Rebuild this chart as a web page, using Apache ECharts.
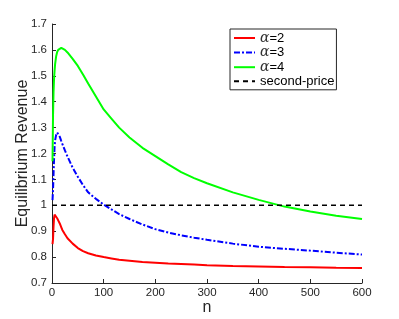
<!DOCTYPE html>
<html><head><meta charset="utf-8">
<script src="https://cdn.jsdelivr.net/npm/echarts@6/dist/echarts.min.js"></script>
<style>html,body{margin:0;padding:0;background:#fff}#c{width:399px;height:319px}</style>
</head><body><div id="c"></div>
<script>
const nValues = [1,2,3,4,5,6,8,10,12,15,18,20,25,30,40,50,60,70,85,100,115,130,150,175,200,225,250,275,300,350,400,450,500,550,600];
const alpha2 = [0.85,0.87,0.92,0.952,0.964,0.966,0.96,0.95,0.942,0.93,0.915,0.905,0.888,0.873,0.852,0.835,0.823,0.815,0.806,0.80,0.795,0.79,0.786,0.781,0.778,0.775,0.773,0.771,0.769,0.766,0.764,0.762,0.761,0.759,0.758];
const alpha3 = [1.02,1.06,1.12,1.18,1.225,1.25,1.272,1.281,1.279,1.265,1.248,1.237,1.212,1.188,1.145,1.11,1.078,1.05,1.025,1.003,0.984,0.966,0.947,0.926,0.908,0.895,0.884,0.875,0.867,0.852,0.84,0.832,0.825,0.817,0.81];
const alpha4 = [1.17,1.35,1.44,1.49,1.52,1.545,1.575,1.592,1.6,1.606,1.608,1.607,1.6,1.59,1.565,1.538,1.505,1.47,1.42,1.37,1.335,1.3,1.262,1.222,1.19,1.158,1.128,1.105,1.085,1.05,1.021,0.995,0.976,0.96,0.947];
const secondPriceN = [0,600];
const secondPrice = [1,1];
const seriesNames = ['α=2','α=3','α=4','second-price'];
const xTicks = {min:0,max:600,interval:100};
const yTicks = {min:0.7,max:1.7,interval:0.1};

const pair = (xs, ys) => xs.map((x,i)=>[x,ys[i]]);
const axisColor = '#262626';
const font = 'Liberation Sans, Arial, Helvetica, sans-serif';

const chart = echarts.init(document.getElementById('c'), null, {renderer:'canvas'});
chart.setOption({
  animation:false,
  backgroundColor:'#fff',
  grid:{left:52,right:37,top:24,bottom:36,containLabel:false,outerBoundsMode:'none'},
  xAxis:{type:'value',min:xTicks.min,max:xTicks.max,interval:xTicks.interval,
    name:'n',nameLocation:'middle',nameGap:17,nameMoveOverlap:false,
    nameTextStyle:{fontSize:16,color:axisColor,fontFamily:font},
    axisLine:{lineStyle:{color:axisColor,width:1}},
    axisTick:{inside:true,length:4,lineStyle:{color:axisColor}},
    axisLabel:{fontSize:11.5,color:axisColor,fontFamily:font,margin:4},
    splitLine:{show:false}},
  yAxis:{type:'value',min:yTicks.min,max:yTicks.max,interval:yTicks.interval,
    name:'Equilibrium Revenue',nameLocation:'middle',nameGap:21,nameMoveOverlap:false,
    nameTextStyle:{fontSize:16,color:axisColor,fontFamily:font},
    axisLine:{show:true,lineStyle:{color:axisColor,width:1}},
    axisTick:{show:true,inside:true,length:4,lineStyle:{color:axisColor}},
    axisLabel:{fontSize:11.5,color:axisColor,fontFamily:font,margin:5,
      formatter:v=>String(Math.round(v*10)/10)},
    splitLine:{show:false}},
  legend:{orient:'vertical',left:230,top:29,padding:[2,2,2,3],
    itemWidth:21,itemHeight:12,itemGap:0.6,
    itemStyle:{opacity:0},
    backgroundColor:'#fff',borderColor:'#262626',borderWidth:1,borderRadius:0,
    textStyle:{fontSize:13,color:'#000',fontFamily:font,lineHeight:12,
      rich:{a:{fontSize:14,lineHeight:12,fontStyle:'italic',fontFamily:'DejaVu Serif, serif',color:'#333'},
            b:{fontSize:13,lineHeight:12,fontFamily:font,color:'#000'}}},
    formatter:name=>name.startsWith('α')?'{a|α}{b|'+name.slice(1)+'}':'{b|'+name+'}',
    data:seriesNames},
  series:[
    {name:seriesNames[0],type:'line',data:pair(nValues,alpha2),showSymbol:false,symbol:'none',
     lineStyle:{color:'#ff0000',width:2},itemStyle:{color:'#ff0000'}},
    {name:seriesNames[1],type:'line',data:pair(nValues,alpha3),showSymbol:false,symbol:'none',
     lineStyle:{color:'#0000ff',width:2,type:[6,2,2,2]},itemStyle:{color:'#0000ff'}},
    {name:seriesNames[2],type:'line',data:pair(nValues,alpha4),showSymbol:false,symbol:'none',
     lineStyle:{color:'#00ff00',width:2},itemStyle:{color:'#00ff00'}},
    {name:seriesNames[3],type:'line',data:pair(secondPriceN,secondPrice),showSymbol:false,symbol:'none',
     lineStyle:{color:'#000',width:1.5,type:[5,4]},itemStyle:{color:'#000'}}
  ]
});
</script></body></html>
